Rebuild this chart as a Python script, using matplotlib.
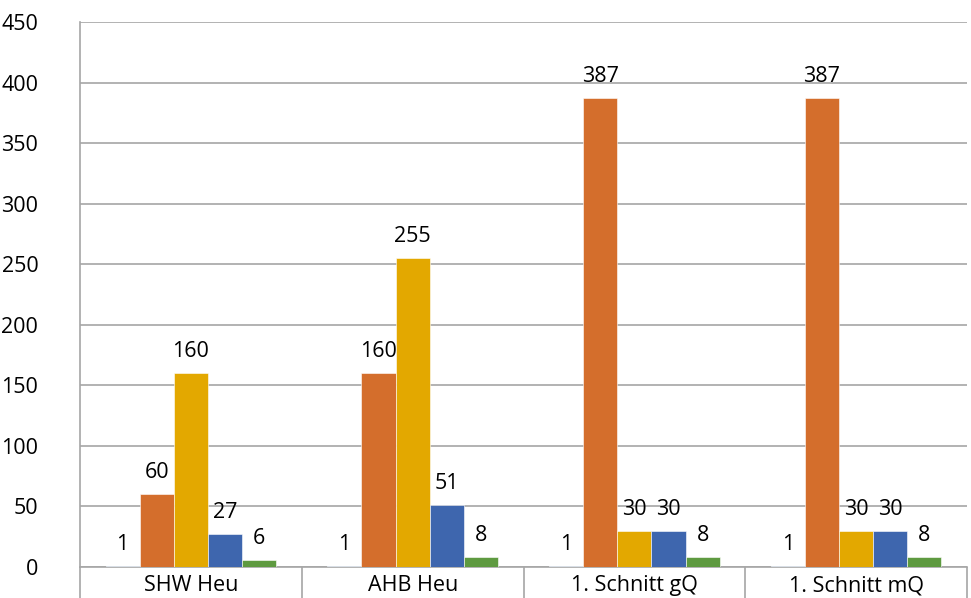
import matplotlib.pyplot as plt
import numpy as np

categories = ['SHW Heu', 'AHB Heu', '1. Schnitt gQ', '1. Schnitt mQ']
s1 = [1, 1, 1, 1]
s2 = [60, 160, 387, 387]
s3 = [160, 255, 30, 30]
s4 = [27, 51, 30, 30]
s5 = [6, 8, 8, 8]
series = [s1, s2, s3, s4, s5]
colors = ['#A9C4E2', '#D46E2C', '#E3A800', '#3E66AE', '#5E9A40']

plt.rcParams['font.family'] = ['Open Sans', 'DejaVu Sans']
fs = 15.5

fig = plt.figure(figsize=(9.71, 5.98), dpi=100)
ax = fig.add_axes([80 / 971, (598 - 567) / 598, (967 - 80) / 971, (567 - 22) / 598])

x = np.arange(len(categories))
n = len(series)
w = 1 / (n + 1.5)
for i, (vals, c) in enumerate(zip(series, colors)):
    pos = x + (i - (n - 1) / 2) * w
    ax.bar(pos, vals, width=w, color=c, edgecolor='white', linewidth=0.4, zorder=3)
    for p, v in zip(pos, vals):
        ax.annotate(str(v), (p, v), xytext=(0, 8), textcoords='offset points',
                    ha='center', va='bottom', fontsize=fs)

ax.set_xlim(-0.5, len(categories) - 0.5)
ax.set_ylim(0, 450)
ax.set_yticks(range(0, 451, 50))
ax.yaxis.grid(True, color='#A6A6A6', linewidth=1.2, zorder=0)
ax.tick_params(axis='y', length=0, labelsize=fs, pad=30)
for sp in ['top', 'right']:
    ax.spines[sp].set_visible(False)
ax.spines['left'].set_color('#A6A6A6')
ax.spines['left'].set_linewidth(1.2)
ax.spines['bottom'].set_color('#A6A6A6')
ax.spines['bottom'].set_linewidth(1.2)

# category labels and separators below axis
ax.set_xticks(x)
ax.set_xticklabels(categories)
ax.tick_params(axis='x', length=0, labelsize=fs, pad=6)
ax.set_xticks(np.arange(-0.5, len(categories)), minor=True)
ax.tick_params(axis='x', which='minor', length=40, color='#A6A6A6', width=1.2)

fig.savefig('out.png', dpi=100)
